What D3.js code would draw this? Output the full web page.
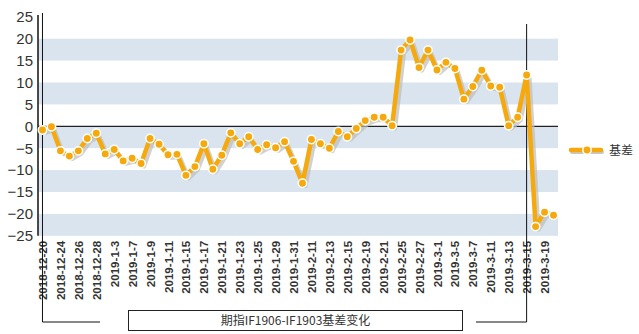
<!DOCTYPE html>
<html><head><meta charset="utf-8">
<script src="https://cdn.jsdelivr.net/npm/d3@7"></script>
<style>
html,body{margin:0;padding:0;background:#fff;}
svg{display:block;}
</style>
</head><body>
<svg id="chart" width="639" height="334"></svg>
<script>
const dates = ["2018-12-20","2018-12-21","2018-12-24","2018-12-25","2018-12-26","2018-12-27","2018-12-28",
"2019-1-2","2019-1-3","2019-1-4","2019-1-7","2019-1-8","2019-1-9","2019-1-10","2019-1-11","2019-1-14","2019-1-15","2019-1-16","2019-1-17","2019-1-18","2019-1-21","2019-1-22","2019-1-23","2019-1-24","2019-1-25","2019-1-28","2019-1-29","2019-1-30","2019-1-31",
"2019-2-1","2019-2-11","2019-2-12","2019-2-13","2019-2-14","2019-2-15","2019-2-18","2019-2-19","2019-2-20","2019-2-21","2019-2-22","2019-2-25","2019-2-26","2019-2-27","2019-2-28",
"2019-3-1","2019-3-4","2019-3-5","2019-3-6","2019-3-7","2019-3-8","2019-3-11","2019-3-12","2019-3-13","2019-3-14","2019-3-15","2019-3-18","2019-3-19","2019-3-20"];
const basis = [-0.85,-0.1,-5.6,-6.8,-5.6,-2.8,-1.6,-6.3,-5.3,-7.9,-7.3,-8.5,-2.8,-4.1,-6.5,-6.4,-11.2,-9.2,-4.0,-9.8,-6.6,-1.5,
-4.0,-2.4,-5.3,-4.2,-4.9,-3.5,-8.0,-13.0,-3.0,-4.0,-5.0,-1.2,-2.4,-0.5,1.3,2.05,2.05,
0.15,17.4,19.7,13.4,17.4,12.85,14.6,13.2,6.2,9.1,12.8,9.2,8.9,0.15,2.05,11.7,-22.9,-19.6,-20.3];
const yTicks = [25,20,15,10,5,0,-5,-10,-15,-20,-25];
const bandRanges = [[15,20],[5,10],[-5,0],[-15,-10],[-25,-20]];
const seriesName = "基差";
const caption = "期指IF1906-IF1903基差变化";
const markStart = "2018-12-20", markEnd = "2019-3-15";

const svg = d3.select("#chart");
const left = 38, right = 558;
const x = d3.scalePoint().domain(dates).range([left, right]).padding(0.5);
const y = d3.scaleLinear().domain([-25, 25]).range([235.8, 16.8]);
const orange = "#f5a90c";

// bands
svg.append("g").selectAll("rect").data(bandRanges).join("rect")
  .attr("x", left).attr("width", right - left)
  .attr("y", d => y(d[1])).attr("height", d => y(d[0]) - y(d[1]))
  .attr("fill", "#d9e4ef");

// zero line
svg.append("line").attr("x1", left).attr("x2", right)
  .attr("y1", y(0)).attr("y2", y(0)).attr("stroke", "#222").attr("stroke-width", 1.2);

// y axis
const yAxis = svg.append("g").attr("transform", `translate(${left},0)`)
  .call(d3.axisLeft(y).tickValues(yTicks).tickSize(0).tickPadding(5));
yAxis.select(".domain").remove();
yAxis.selectAll("text").attr("font-family", "Liberation Sans, Arial, sans-serif")
  .attr("font-size", 15).attr("fill", "#333");
svg.append("line").attr("x1", left).attr("x2", left).attr("y1", 15).attr("y2", y(-25))
  .attr("stroke", "#111").attr("stroke-width", 1.5);

// x axis
const xAxis = svg.append("g").attr("transform", `translate(0,${y(-25)})`)
  .call(d3.axisBottom(x).tickValues(dates.filter((d, i) => i % 2 === 0)).tickSize(0));
xAxis.select(".domain").remove();
xAxis.selectAll("text")
  .attr("font-family", "Liberation Sans, Arial, sans-serif").attr("font-size", 11.6).attr("font-weight", "bold")
  .attr("fill", "#333")
  .attr("text-anchor", "end").attr("dy", "0.35em")
  .attr("transform", "rotate(-90)").attr("x", -5).attr("y", 0);

// bracket lines
const xs = x(markStart), xe = x(markEnd);
svg.append("path").attr("d", `M${xs},13V322H100`).attr("fill", "none").attr("stroke", "#111").attr("stroke-width", 1);
svg.append("path").attr("d", `M${xe},24V322H476`).attr("fill", "none").attr("stroke", "#111").attr("stroke-width", 1);

// caption box
svg.append("rect").attr("x", 128.5).attr("y", 310.5).attr("width", 334).attr("height", 20)
  .attr("fill", "#fff").attr("stroke", "#222").attr("stroke-width", 1);
svg.append("text").attr("x", 295.5).attr("y", 325).attr("text-anchor", "middle")
  .attr("font-family", "Noto Sans CJK SC, sans-serif").attr("font-size", 12).attr("fill", "#333").text(caption);

// series
const line = d3.line().x((d, i) => x(dates[i])).y(d => y(d));
svg.append("path").datum(basis).attr("d", line).attr("fill", "none")
  .attr("stroke", "#bdbdbd").attr("stroke-opacity", 0.7).attr("stroke-width", 4)
  .attr("stroke-linejoin", "round").attr("transform", "translate(3,3)");
svg.append("path").datum(basis).attr("d", line).attr("fill", "none")
  .attr("stroke", orange).attr("stroke-width", 4.5).attr("stroke-linejoin", "round");
svg.append("g").selectAll("circle").data(basis).join("circle")
  .attr("cx", (d, i) => x(dates[i])).attr("cy", d => y(d)).attr("r", 4.2)
  .attr("fill", orange).attr("stroke", "#fff").attr("stroke-width", 1.5);

// legend
const lg = svg.append("g");
lg.append("line").attr("x1", 572).attr("x2", 602).attr("y1", 152).attr("y2", 152)
  .attr("stroke", "#c8c8c8").attr("stroke-width", 4).attr("stroke-linecap", "round");
lg.append("line").attr("x1", 571).attr("x2", 601).attr("y1", 150).attr("y2", 150)
  .attr("stroke", orange).attr("stroke-width", 4.5).attr("stroke-linecap", "round");
lg.append("circle").attr("cx", 587).attr("cy", 150).attr("r", 4.2)
  .attr("fill", orange).attr("stroke", "#fff").attr("stroke-width", 1.5);
lg.append("text").attr("x", 609).attr("y", 154.5).attr("font-family", "Noto Sans CJK SC, sans-serif")
  .attr("font-size", 12).attr("fill", "#333").text(seriesName);
</script>
</body></html>
